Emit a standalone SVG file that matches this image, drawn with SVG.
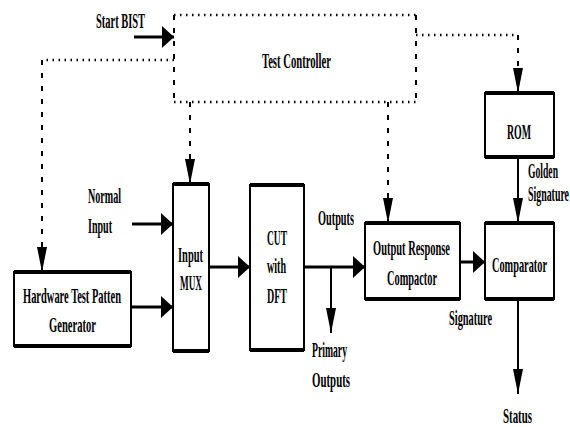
<svg xmlns="http://www.w3.org/2000/svg" width="570" height="427" viewBox="0 0 570 427">
<style>
.box{fill:#fff;stroke:#000;stroke-width:2}
.edge{stroke:#000;stroke-width:4}
.t{font-family:"Liberation Serif","Times New Roman",serif;font-weight:bold;font-size:21px;fill:#000}
.s{stroke:#000;fill:none}
.sh{stroke-width:3}
.sv{stroke-width:2}
.dh{stroke:#000;fill:none;stroke-width:2.5;stroke-dasharray:1.5 4.5}
.dv{stroke:#000;fill:none;stroke-width:2;stroke-dasharray:5 8}
</style>
<defs>
<marker id="ah" markerUnits="userSpaceOnUse" markerWidth="13" markerHeight="22" refX="12" refY="11" orient="auto"><path d="M0,0 L12,11 L0,22 Z" fill="#000"/></marker>
<marker id="av" markerUnits="userSpaceOnUse" markerWidth="26" markerHeight="10" refX="25" refY="5" orient="auto"><path d="M0,0 L25,5 L0,10 Z" fill="#000"/></marker>
</defs>
<rect width="570" height="427" fill="#fff"/>
<g id="connectors">
<line class="s sh" x1="134" y1="37" x2="174" y2="37" marker-end="url(#ah)"/>
<path class="dh" d="M174,60 L42,60"/>
<path class="dv" d="M42,60 L42,272" marker-end="url(#av)"/>
<path class="dv" d="M190,102 L190,184" marker-end="url(#av)"/>
<path class="dv" d="M388,102 L388,223" marker-end="url(#av)"/>
<path class="dh" d="M416,35 L518,35"/>
<path class="dv" d="M518,35 L518,93" marker-end="url(#av)"/>
<line class="s sh" x1="132" y1="224" x2="173" y2="224" marker-end="url(#ah)"/>
<line class="s sh" x1="131" y1="307" x2="173" y2="307" marker-end="url(#ah)"/>
<line class="s sh" x1="209" y1="267" x2="250" y2="267" marker-end="url(#ah)"/>
<line class="s sh" x1="304" y1="267" x2="365" y2="267" marker-end="url(#ah)"/>
<line class="s sv" x1="331" y1="267" x2="331" y2="333" marker-end="url(#av)"/>
<line class="s sh" x1="460" y1="262" x2="485" y2="262" marker-end="url(#ah)"/>
<line class="s sv" x1="518" y1="157" x2="518" y2="223" marker-end="url(#av)"/>
<line class="s sv" x1="518" y1="299" x2="518" y2="394" marker-end="url(#av)"/>
</g>
<g id="test-controller">
<path class="dh" d="M174,15 L416,15 M174,102 L416,102"/>
<path class="dv" d="M174,15 L174,102 M416,15 L416,102"/>
<text class="t" x="262" y="68" textLength="69" lengthAdjust="spacingAndGlyphs">Test Controller</text>
</g>
<g id="start-bist"><text class="t" x="96" y="28" textLength="49" lengthAdjust="spacingAndGlyphs">Start BIST</text></g>
<g id="rom">
<rect class="box" x="485" y="93" width="69" height="64"/>
<path class="edge" d="M485,93 H554 M485,157 H554"/>
<text class="t" x="507" y="139" textLength="24" lengthAdjust="spacingAndGlyphs">ROM</text>
</g>
<g id="golden-signature">
<text class="t" x="528" y="178" textLength="30" lengthAdjust="spacingAndGlyphs">Golden</text>
<text class="t" x="528" y="201" textLength="41" lengthAdjust="spacingAndGlyphs">Signature</text>
</g>
<g id="normal-input">
<text class="t" x="88" y="203" textLength="33" lengthAdjust="spacingAndGlyphs">Normal</text>
<text class="t" x="88" y="233" textLength="24" lengthAdjust="spacingAndGlyphs">Input</text>
</g>
<g id="input-mux">
<rect class="box" x="173" y="184" width="36" height="167"/>
<path class="edge" d="M173,184 H209 M173,351 H209"/>
<text class="t" x="178" y="262" textLength="25" lengthAdjust="spacingAndGlyphs">Input</text>
<text class="t" x="180" y="290" textLength="22" lengthAdjust="spacingAndGlyphs">MUX</text>
</g>
<g id="cut">
<rect class="box" x="250" y="185" width="54" height="165"/>
<path class="edge" d="M250,185 H304 M250,350 H304"/>
<text class="t" x="267" y="245" textLength="20" lengthAdjust="spacingAndGlyphs">CUT</text>
<text class="t" x="267" y="273" textLength="19" lengthAdjust="spacingAndGlyphs">with</text>
<text class="t" x="267" y="303" textLength="20" lengthAdjust="spacingAndGlyphs">DFT</text>
</g>
<g id="htpg">
<rect class="box" x="14" y="272" width="117" height="74"/>
<path class="edge" d="M14,272 H131 M14,346 H131"/>
<text class="t" x="23" y="303" textLength="98" lengthAdjust="spacingAndGlyphs">Hardware Test Patten</text>
<text class="t" x="49" y="332" textLength="47" lengthAdjust="spacingAndGlyphs">Generator</text>
</g>
<g id="outputs-label"><text class="t" x="318" y="225" textLength="36" lengthAdjust="spacingAndGlyphs">Outputs</text></g>
<g id="primary-outputs">
<text class="t" x="312" y="357" textLength="35" lengthAdjust="spacingAndGlyphs">Primary</text>
<text class="t" x="312" y="387" textLength="38" lengthAdjust="spacingAndGlyphs">Outputs</text>
</g>
<g id="orc">
<rect class="box" x="365" y="223" width="95" height="76"/>
<path class="edge" d="M365,223 H460 M365,299 H460"/>
<text class="t" x="373" y="255" textLength="77" lengthAdjust="spacingAndGlyphs">Output Response</text>
<text class="t" x="387" y="285" textLength="50" lengthAdjust="spacingAndGlyphs">Compactor</text>
</g>
<g id="signature-label"><text class="t" x="449" y="325" textLength="43" lengthAdjust="spacingAndGlyphs">Signature</text></g>
<g id="comparator">
<rect class="box" x="485" y="223" width="69" height="76"/>
<path class="edge" d="M485,223 H554 M485,299 H554"/>
<text class="t" x="492" y="272" textLength="55" lengthAdjust="spacingAndGlyphs">Comparator</text>
</g>
<g id="status"><text class="t" x="503" y="423" textLength="29" lengthAdjust="spacingAndGlyphs">Status</text></g>
</svg>
